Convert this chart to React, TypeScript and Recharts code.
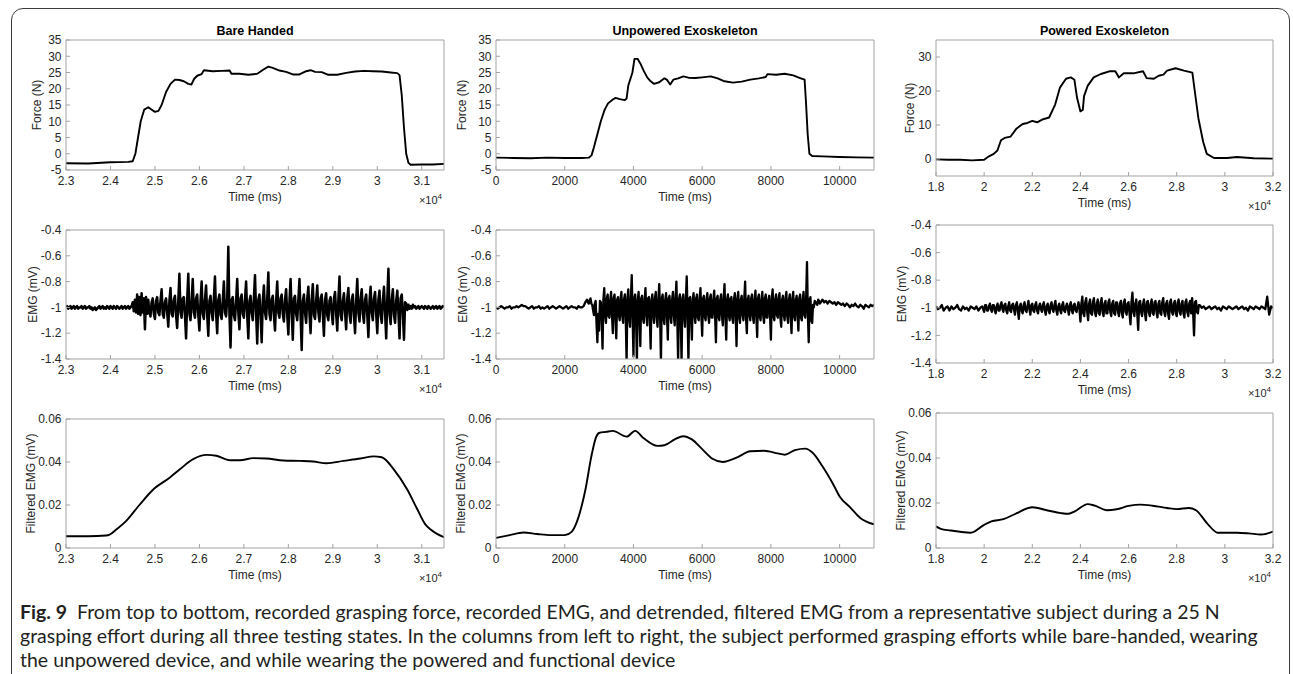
import { Line, LineChart, XAxis, YAxis } from "recharts";

// ---------- tick values ----------
const bareTimeTicks = [23000, 24000, 25000, 26000, 27000, 28000, 29000, 30000, 31000];
const unpTimeTicks = [0, 2000, 4000, 6000, 8000, 10000];
const powTimeTicks = [18000, 20000, 22000, 24000, 26000, 28000, 30000, 32000];
const forceTicks = [-5, 0, 5, 10, 15, 20, 25, 30, 35];
const forcePowTicks = [0, 10, 20, 30];
const emgTicks = [-1.4, -1.2, -1, -0.8, -0.6, -0.4];
const filtTicks = [0, 0.02, 0.04, 0.06];

// ---------- grasping force (N) ----------
const forceBareTime = [
  23000, 23500, 24000, 24400, 24500, 24560, 24620, 24680, 24760, 24850, 24920, 25000, 25080,
  25150, 25250, 25350, 25450, 25550, 25650, 25750, 25820, 25880, 25950, 26050, 26100, 26300,
  26500, 26680, 26720, 26900, 27100, 27300, 27450, 27550, 27650, 27800, 27950, 28100, 28250,
  28400, 28500, 28600, 28750, 28900, 29100, 29300, 29500, 29700, 29900, 30100, 30300, 30450,
  30500, 30550, 30600, 30650, 30700, 30750, 31000, 31250, 31500,
];
const forceBare = [
  -2.9, -3.0, -2.6, -2.5, -2.3, 0, 5, 10, 13.6, 14.3, 13.6, 12.9, 13.2,
  15, 19, 21.5, 22.8, 22.7, 22.3, 21.5, 21.3, 23, 24, 24.5, 25.7, 25.4,
  25.5, 25.6, 24.6, 24.6, 24.3, 24.6, 26, 26.8, 26.4, 25.6, 25.2, 24.4, 24.4,
  25.4, 25.7, 25.2, 25.1, 24.3, 24.3, 24.9, 25.3, 25.5, 25.4, 25.3, 25, 24.8,
  24.2, 18, 8, 0, -2.8, -3.4, -3.3, -3.3, -3.1,
];

const forceUnpTime = [
  0, 500, 1000, 1500, 2000, 2500, 2700, 2780, 2850, 2950, 3050, 3160, 3260, 3400, 3480, 3600,
  3750, 3800, 3850, 3970, 4030, 4120, 4200, 4300, 4400, 4500, 4600, 4750, 4900, 4970, 5070,
  5160, 5300, 5450, 5600, 5800, 6000, 6250, 6450, 6650, 6900, 7150, 7400, 7650, 7850, 7900,
  8150, 8400, 8650, 8850, 8980, 9020, 9070, 9120, 9200, 9500, 10000, 10500, 11000,
];
const forceUnp = [
  -1.2, -1.3, -1.4, -1.2, -1.3, -1.3, -1.2, -0.5, 2, 6, 10, 13.5, 15.5, 16.7, 17.2, 16.8,
  16.5, 17, 21, 25, 29.2, 29.2, 27.8, 25.5, 23.5, 22.3, 21.5, 22, 23.2, 22.8, 21.3,
  22.8, 23.2, 23.8, 23.4, 23.3, 23.5, 23.8, 23.2, 22.3, 21.9, 22.2, 22.8, 23.2, 23.6, 24.5,
  24.3, 24.6, 24.1, 23.3, 22.8, 16, 6, 0, -0.7, -0.8, -1.0, -1.1, -1.2,
];

const forcePowTime = [
  18000, 18500, 19000, 19500, 20000, 20200, 20400, 20550, 20700, 20850, 21100, 21350, 21600,
  21800, 22000, 22200, 22450, 22700, 22950, 23150, 23400, 23600, 23750, 23860, 24000, 24100,
  24150, 24300, 24550, 24850, 25200, 25450, 25600, 25800, 26200, 26600, 26750, 27050, 27250,
  27450, 27600, 27950, 28300, 28650, 28750, 28900, 29100, 29250, 29550, 30100, 30500, 31200,
  32000,
];
const forcePow = [
  -0.1, -0.2, -0.2, -0.4, -0.2, 0.8, 1.5, 2.5, 5.5, 6.2, 6.6, 9, 10.3,
  10.6, 11.2, 10.8, 11.7, 12.2, 16, 21, 23.6, 24, 23.3, 18, 14, 14.5,
  18.5, 21.5, 24, 25, 25.8, 25.8, 24, 25.2, 25.2, 25.8, 23.8, 23.6, 24.5,
  24.8, 26, 26.7, 26, 25.4, 20, 12, 5, 1.5, 0.3, 0.3, 0.6, 0.2,
  0.1,
];

// ---------- raw EMG (mV), each piece sampled on a fixed grid ----------
const emgBareStart = 23000;
const emgBareStep = 25;
const emgBare = [
  // quiet
  -1.0, -0.99, -1.01, -1.0, -0.99, -1.01, -1.0, -0.99, -1.01, -1.0,
  -0.99, -1.01, -1.0, -1.0, -0.99, -1.01, -1.0, -0.99, -1.01, -1.0,
  -1.0, -0.99, -1.01, -1.0, -1.02, -1.01, -1.0, -1.02, -1.01, -1.0,
  -0.99, -1.01, -1.0, -0.99, -1.01, -1.0, -1.01, -0.99, -1.0, -1.01,
  -0.99, -1.0, -1.01, -0.99, -1.0, -1.01, -0.99, -1.0, -1.01, -1.0,
  -0.99, -1.01, -1.0, -0.99, -1.01, -1.0, -0.99, -1.01, -1.0, -0.99,
  // onset burst
  -0.96, -1.03, -0.94, -1.04, -0.9, -1.05, -0.92, -1.06, -0.89, -1.04, -0.93, -1.17, -0.92, -1.05,
  // active
  -0.94, -1.04, -1.07, -0.96, -0.93, -1.05, -1.09, -0.95, -0.92, -1.04, -1.06, -0.95, -0.86, -1.05, -1.08, -0.96, -0.93, -1.04, -1.15, -0.95,
  -0.85, -1.05, -1.07, -0.94, -0.91, -1.06, -1.16, -0.95, -0.74, -1.04, -1.08, -0.93, -0.92, -1.06, -1.24, -0.94, -0.74, -1.05, -1.1, -0.95,
  -0.78, -1.04, -1.08, -0.93, -0.9, -1.06, -1.18, -0.95, -0.8, -1.05, -1.09, -0.94, -0.83, -1.06, -1.22, -0.95, -0.91, -1.04, -1.1, -0.93,
  -0.76, -1.05, -1.2, -0.94, -0.9, -1.06, -1.09, -0.95, -0.8, -1.04, -1.07, -0.93, -0.53, -1.05, -1.31, -0.94, -0.92, -1.06, -1.1, -0.95,
  -0.78, -1.04, -1.17, -0.93, -0.9, -1.05, -1.08, -0.94, -0.8, -1.06, -1.24, -0.95, -0.91, -1.04, -1.1, -0.93, -0.75, -1.05, -1.28, -0.94,
  -0.9, -1.06, -1.27, -0.95, -0.83, -1.04, -1.09, -0.93, -0.73, -1.05, -1.1, -0.94, -0.91, -1.06, -1.18, -0.95, -0.8, -1.04, -1.08, -0.93,
  -0.9, -1.05, -1.11, -0.94, -0.86, -1.06, -1.21, -0.95, -0.78, -1.04, -1.25, -0.93, -0.91, -1.05, -1.1, -0.94, -0.78, -1.06, -1.33, -0.95,
  -0.9, -1.04, -1.12, -0.93, -0.84, -1.05, -1.2, -0.94, -0.82, -1.06, -1.09, -0.95, -0.83, -1.04, -1.11, -0.93, -0.9, -1.05, -1.22, -0.94,
  -0.89, -1.06, -1.1, -0.95, -0.92, -1.04, -1.13, -0.93, -0.88, -1.05, -1.18, -0.94, -0.76, -1.06, -1.1, -0.95, -0.89, -1.04, -1.17, -0.93,
  -0.85, -1.05, -1.12, -0.94, -0.9, -1.06, -1.2, -0.95, -0.78, -1.04, -1.11, -0.93, -0.86, -1.05, -1.12, -0.94, -0.9, -1.06, -1.23, -0.95,
  -0.84, -1.04, -1.1, -0.93, -0.88, -1.05, -1.2, -0.94, -0.87, -1.06, -1.12, -0.95, -0.84, -1.04, -1.24, -0.93, -0.7, -1.05, -1.13, -0.94,
  -0.86, -1.06, -1.12, -0.95, -0.87, -1.04, -1.24, -0.93, -0.9, -1.05, -1.25, -0.96,
  // release and quiet
  -0.97, -1.02, -0.98, -1.01, -0.99, -1.01, -0.98, -1.0, -0.99, -1.01,
  -1.0, -0.99, -1.01, -1.0, -0.99, -1.0, -1.01, -0.99, -1.0, -1.01,
  -0.99, -1.0, -1.01, -1.0, -0.99, -1.01, -1.0, -0.99, -1.01, -1.0,
  -0.99, -1.01, -1.0, -0.99, -1.0,
];

const emgUnpPreStart = 0;
const emgUnpPreStep = 50;
const emgUnpPre = [
  -1.0, -1.01, -1.0, -0.99, -1.0, -1.01, -1.0, -1.0, -0.99, -1.01,
  -1.0, -1.0, -0.99, -1.0, -0.99, -0.98, -0.99, -0.99, -1.0, -1.01,
  -1.0, -0.99, -1.01, -1.0, -1.0, -0.99, -1.01, -1.0, -1.01, -1.0,
  -0.99, -1.01, -1.0, -0.99, -1.0, -1.01, -1.0, -0.99, -1.0, -1.01,
  -1.0, -0.99, -1.01, -1.0, -0.99, -1.0, -1.0, -1.01, -0.99, -1.0,
  -1.0, -0.99,
];
const emgUnpActStart = 2600;
const emgUnpActStep = 25;
const emgUnpAct = [
  -0.96, -0.95, -0.94, -0.96, -0.97, -0.95, -0.93, -0.97, -0.98, -1.02, -1.06, -0.97, -0.95, -1.12, -1.27, -1.05,
  -1.18, -0.95, -0.96, -1.08, -1.32, -0.94, -0.85, -1.06, -1.12, -0.93, -0.9, -1.07, -1.08, -0.94, -0.88, -1.06, -1.2, -0.93, -0.9, -1.07,
  -1.24, -0.94, -0.92, -1.06, -1.1, -0.93, -0.88, -1.07, -1.12, -0.94, -0.9, -1.06, -1.42, -0.93, -0.86, -1.08, -1.15, -0.94, -0.75, -1.06,
  -1.38, -0.93, -0.9, -1.07, -1.42, -0.94, -0.88, -1.06, -1.3, -0.93, -0.91, -1.08, -1.12, -0.94, -0.85, -1.06, -1.14, -0.93, -0.92, -1.07,
  -1.32, -0.94, -0.9, -1.06, -1.12, -0.93, -0.88, -1.07, -1.15, -0.94, -0.82, -1.06, -1.42, -0.93, -0.9, -1.08, -1.13, -0.94, -0.89, -1.06,
  -1.25, -0.93, -0.91, -1.07, -1.12, -0.94, -0.88, -1.06, -1.14, -0.93, -0.8, -1.08, -1.42, -0.94, -0.9, -1.06, -1.42, -0.93, -0.9, -1.07,
  -1.15, -0.94, -0.76, -1.06, -1.42, -0.93, -0.92, -1.07, -1.25, -0.94, -0.89, -1.06, -1.12, -0.93, -0.9, -1.08, -1.1, -0.94, -0.85, -1.06,
  -1.22, -0.93, -0.91, -1.07, -1.1, -0.94, -0.89, -1.06, -1.12, -0.93, -0.9, -1.08, -1.08, -0.94, -0.87, -1.06, -1.27, -0.93, -0.91, -1.07,
  -1.1, -0.94, -0.9, -1.06, -1.14, -0.93, -0.82, -1.07, -1.25, -0.94, -0.9, -1.06, -1.1, -0.93, -0.92, -1.08, -1.12, -0.94, -0.89, -1.06,
  -1.3, -0.93, -0.88, -1.07, -1.12, -0.94, -0.91, -1.06, -1.1, -0.93, -0.8, -1.08, -1.2, -0.94, -0.91, -1.06, -1.1, -0.93, -0.9, -1.07,
  -1.12, -0.94, -0.87, -1.06, -1.23, -0.93, -0.9, -1.07, -1.1, -0.94, -0.88, -1.06, -1.12, -0.93, -0.9, -1.08, -1.08, -0.94, -0.91, -1.06,
  -1.25, -0.93, -0.86, -1.07, -1.1, -0.94, -0.9, -1.06, -1.08, -0.93, -0.89, -1.08, -1.15, -0.94, -0.91, -1.06, -1.1, -0.93, -0.88, -1.07,
  -1.12, -0.94, -0.9, -1.06, -1.2, -0.93, -0.88, -1.07, -1.1, -0.94, -0.91, -1.06, -1.18, -0.93, -0.9, -1.08, -1.1, -0.94, -0.88, -1.06,
  -1.08, -0.93, -0.65, -1.05, -1.27, -0.94, -0.92, -1.1, -1.12, -0.98, -1.0, -0.95, -0.96, -0.97, -0.98, -0.94, -0.95, -0.97, -0.96, -0.95,
];
const emgUnpPostStart = 9500;
const emgUnpPostStep = 50;
const emgUnpPost = [
  -0.94, -0.96, -0.95, -0.97, -0.95, -0.96, -0.97, -0.96, -0.98, -0.96,
  -0.97, -0.98, -0.97, -0.99, -0.97, -0.98, -1.0, -0.98, -0.99, -0.97,
  -0.99, -1.0, -0.98, -0.99, -1.01, -0.98, -0.99, -1.0, -0.98, -0.99,
  -0.98,
];

const emgPowPreStart = 18000;
const emgPowPreStep = 80;
const emgPowPre = [
  -0.99, -1.01, -1.0, -0.98, -1.02, -1.0, -0.99, -1.02, -0.99, -1.01,
  -1.0, -0.98, -1.01, -1.02, -0.99, -1.01, -1.0, -1.02, -0.99, -1.0,
  -1.01, -0.99, -1.02, -1.0, -0.99,
];
const emgPowActStart = 20000;
const emgPowActStep = 40;
const emgPowAct = [
  -1.03, -0.98, -0.98, -1.02, -1.02, -0.99, -0.97, -1.01, -1.03, -0.98, -0.98, -1.02, -1.04, -0.99, -0.97, -1.02, -1.02, -0.98, -0.96, -1.01,
  -1.03, -0.98, -0.97, -1.02, -1.04, -0.99, -0.96, -1.02, -1.03, -0.98, -0.97, -1.01, -1.05, -0.98, -0.96, -1.02, -1.08, -0.99, -0.97, -1.02,
  -1.04, -0.98, -0.96, -1.02, -1.03, -0.99, -0.95, -1.01, -1.05, -0.98, -0.97, -1.02, -1.03, -0.98, -0.96, -1.02, -1.04, -0.99, -0.97, -1.01,
  -1.03, -0.98, -0.96, -1.02, -1.05, -0.99, -0.97, -1.02, -1.04, -0.98, -0.96, -1.01, -1.03, -0.98, -0.95, -1.02, -1.05, -0.99, -0.97, -1.02,
  -1.04, -0.98, -0.96, -1.02, -1.03, -0.99, -0.97, -1.01, -1.05, -0.98, -0.96, -1.02, -1.04, -0.98, -0.97, -1.02, -1.03, -0.99, -0.96, -1.01,
  -1.1, -0.97, -0.92, -1.04, -1.06, -0.96, -0.93, -1.03, -1.09, -0.97, -0.94, -1.04, -1.05, -0.96, -0.93, -1.03, -1.06, -0.97, -0.94, -1.04,
  -1.05, -0.96, -0.93, -1.03, -1.06, -0.97, -0.95, -1.04, -1.04, -0.96, -0.94, -1.03, -1.06, -0.97, -0.95, -1.04, -1.05, -0.96, -0.96, -1.03,
  -1.06, -0.97, -0.95, -1.04, -1.07, -0.96, -0.94, -1.03, -1.05, -0.97, -0.96, -1.04, -1.12, -0.96, -0.89, -1.03, -1.06, -0.97, -0.94, -1.04,
  -1.16, -0.96, -0.95, -1.03, -1.06, -0.97, -0.94, -1.04, -1.09, -0.96, -0.95, -1.03, -1.06, -0.97, -0.94, -1.04, -1.05, -0.96, -0.95, -1.03,
  -1.07, -0.97, -0.95, -1.04, -1.05, -0.96, -0.93, -1.03, -1.06, -0.97, -0.95, -1.04, -1.08, -0.96, -0.94, -1.03, -1.05, -0.97, -0.95, -1.04,
  -1.06, -0.96, -0.94, -1.03, -1.05, -0.97, -0.95, -1.04, -1.07, -0.96, -0.94, -1.03, -1.06, -0.97, -0.95, -1.04, -0.93, -1.03, -1.2, -0.96,
  -0.95, -1.03, -1.04, -0.98,
];
const emgPowPostStart = 28960;
const emgPowPostStep = 80;
const emgPowPost = [
  -0.98, -1.0, -0.99, -1.01, -1.0, -0.99, -1.01, -1.0,
  -0.99, -1.01, -1.0, -1.02, -0.99, -1.0, -1.01, -0.99, -1.0, -1.01,
  -1.0, -0.99, -1.01, -1.0, -0.99, -1.01, -1.0, -1.02, -0.99, -1.0,
  -1.01, -0.99, -1.0, -1.01, -0.99, -1.0, -1.01, -0.92, -1.05, -0.99, -1.0,
];

// ---------- filtered EMG (mV) ----------
const filtBareTime = [
  23000, 23500, 23900, 23980, 24130, 24350, 24650, 24950, 25330, 25560, 25860, 26160, 26380,
  26680, 26910, 27210, 27510, 27890, 28260, 28560, 28860, 29240, 29620, 29920, 30100, 30370,
  30670, 30900, 31080, 31200, 31500,
];
const filtBare = [
  0.0055, 0.0055, 0.0058, 0.0062, 0.0086, 0.0125, 0.02, 0.027, 0.0327, 0.0366, 0.0413, 0.0433,
  0.0429, 0.0408, 0.0408, 0.0418, 0.0416, 0.0407, 0.0405, 0.0402, 0.0394, 0.0405, 0.0416, 0.0426,
  0.0422, 0.0366, 0.0273, 0.018, 0.011, 0.0086, 0.005,
];

const filtUnpTime = [
  0, 400, 800, 1200, 1600, 2000, 2200, 2350, 2500, 2600, 2780, 2900, 3000, 3200, 3400, 3800,
  4050, 4300, 4700, 4900, 5200, 5450, 5700, 6000, 6300, 6600, 7000, 7400, 7800, 8200, 8400,
  8700, 9000, 9200, 9500, 9800, 10000, 10300, 10600, 11000,
];
const filtUnp = [
  0.0047, 0.006, 0.0072, 0.0065, 0.006, 0.006, 0.0075, 0.012, 0.02, 0.027, 0.043, 0.051, 0.0535,
  0.054, 0.0545, 0.0518, 0.0545, 0.051, 0.0475, 0.0478, 0.0505, 0.052, 0.0505, 0.046, 0.0415,
  0.04, 0.042, 0.045, 0.0452, 0.044, 0.0434, 0.0455, 0.0462, 0.0445, 0.038, 0.03, 0.024, 0.019,
  0.014, 0.011,
];

const filtPowTime = [
  18000, 18200, 18600, 19000, 19450, 20000, 20300, 20800, 21300, 22000, 22600, 23200, 23500,
  23800, 24300, 24600, 25100, 25500, 26000, 26500, 27000, 27600, 28000, 28500, 28800, 29300,
  29700, 30000, 30500, 31000, 31500, 32000,
];
const filtPow = [
  0.0096, 0.0085, 0.0078, 0.0072, 0.0068, 0.0103, 0.0118, 0.0128, 0.0152, 0.0181, 0.0168,
  0.0155, 0.0152, 0.0165, 0.0195, 0.0188, 0.0168, 0.0172, 0.0187, 0.0193, 0.0188, 0.0178,
  0.0173, 0.0178, 0.0168, 0.0105, 0.0068, 0.0068, 0.0068, 0.0065, 0.006, 0.0073,
];

const titles = ["Bare Handed", "Unpowered Exoskeleton", "Powered Exoskeleton"];

// ---------- styling / layout ----------
const AXIS = "#a3a3a3";
const INK = "#262626";
const FONT = '"Liberation Sans", Arial, Helvetica, sans-serif';
const PAD_L = 60;
const PAD_T = 10;
const PAD_R = 10;
const PAD_B = 34;

type Pt = { t: number; v: number };
type Box = [number, number, number, number];

const pairs = (time: number[], vals: number[]): Pt[] => time.map((t, i) => ({ t, v: vals[i] }));
const sampled = (start: number, step: number, vals: number[]): Pt[] =>
  vals.map((v, i) => ({ t: start + i * step, v }));

const sciFmt = (v: number) => String(Math.round(v / 1000) / 10);
const plainFmt = (v: number) => String(v);

const emgBarePts = sampled(emgBareStart, emgBareStep, emgBare);
const emgUnpPts = [
  ...sampled(emgUnpPreStart, emgUnpPreStep, emgUnpPre),
  ...sampled(emgUnpActStart, emgUnpActStep, emgUnpAct),
  ...sampled(emgUnpPostStart, emgUnpPostStep, emgUnpPost),
];
const emgPowPts = [
  ...sampled(emgPowPreStart, emgPowPreStep, emgPowPre),
  ...sampled(emgPowActStart, emgPowActStep, emgPowAct),
  ...sampled(emgPowPostStart, emgPowPostStep, emgPowPost),
];

interface PanelProps {
  box: Box;
  points: Pt[];
  xDomain: [number, number];
  xTicks: number[];
  xFmt: (v: number) => string;
  yDomain: [number, number];
  yTicks: number[];
  yLabel: string;
  yLabelGap: number;
  smooth?: boolean;
  sci?: boolean;
  lineWidth?: number;
}

function Panel({ box, points, xDomain, xTicks, xFmt, yDomain, yTicks, yLabel, yLabelGap, smooth, sci, lineWidth = 1.9 }: PanelProps) {
  const [l, t, r, b] = box;
  const w = r - l + PAD_L + PAD_R;
  const h = b - t + PAD_T + PAD_B;
  return (
    <>
      <div style={{ position: "absolute", left: l - PAD_L, top: t - PAD_T }}>
        <LineChart width={w} height={h} data={points} margin={{ top: PAD_T - 1, right: PAD_R - 1, left: 0, bottom: 0 }}>
          <XAxis
            xAxisId="b"
            dataKey="t"
            type="number"
            domain={xDomain}
            ticks={xTicks}
            interval={0}
            allowDataOverflow
            height={PAD_B}
            stroke={AXIS}
            tickSize={-4}
            tickMargin={10}
            tickFormatter={xFmt}
            tick={{ fill: INK, fontSize: 12, fontFamily: FONT }}
            label={{ value: "Time (ms)", position: "insideBottom", offset: 3.5, fill: INK, fontSize: 12, fontFamily: FONT }}
          />
          <XAxis
            xAxisId="top"
            orientation="top"
            dataKey="t"
            type="number"
            domain={xDomain}
            ticks={xTicks}
            interval={0}
            allowDataOverflow
            height={1}
            stroke={AXIS}
            tickSize={-4}
            tick={false}
          />
          <YAxis
            yAxisId="l"
            type="number"
            domain={yDomain}
            ticks={yTicks}
            interval={0}
            allowDataOverflow
            width={PAD_L}
            stroke={AXIS}
            tickSize={-4}
            tickMargin={8.5}
            tickFormatter={plainFmt}
            tick={{ fill: INK, fontSize: 12, fontFamily: FONT }}
            label={{
              value: yLabel,
              angle: -90,
              position: "insideLeft",
              offset: PAD_L - yLabelGap,
              fill: INK,
              fontSize: 12,
              fontFamily: FONT,
              style: { textAnchor: "middle" },
            }}
          />
          <YAxis
            yAxisId="r"
            orientation="right"
            type="number"
            domain={yDomain}
            ticks={yTicks}
            interval={0}
            allowDataOverflow
            width={1}
            stroke={AXIS}
            tickSize={-4}
            tick={false}
          />
          <Line
            xAxisId="b"
            yAxisId="l"
            type={smooth ? "monotone" : "linear"}
            dataKey="v"
            stroke="#000"
            strokeWidth={lineWidth}
            strokeLinejoin="round"
            dot={false}
            activeDot={false}
            isAnimationActive={false}
          />
        </LineChart>
      </div>
      {sci && (
        <div
          style={{
            position: "absolute",
            left: r - 42,
            top: b + 23.5,
            width: 40,
            textAlign: "right",
            fontSize: 11,
            lineHeight: "12px",
            color: INK,
            fontFamily: FONT,
          }}
        >
          ×10<span style={{ fontSize: 8, position: "relative", top: -5 }}>4</span>
        </div>
      )}
    </>
  );
}

const COL_X: [number, number][] = [
  [66, 444],
  [496, 874],
  [936, 1273],
];

export default function App() {
  const bx = (c: number, top: number, bottom: number): Box => [COL_X[c][0], top, COL_X[c][1], bottom];
  return (
    <div
      style={{
        position: "absolute",
        left: 0,
        top: 0,
        width: 1293,
        height: 674,
        background: "#fff",
        overflow: "hidden",
        fontFamily: FONT,
      }}
    >
      <div
        style={{
          position: "absolute",
          left: 11,
          top: 8,
          width: 1279,
          height: 700,
          boxSizing: "border-box",
          border: "1.5px solid #3c3c3c",
          borderRadius: 12,
        }}
      />
      {titles.map((title, c) => (
        <div
          key={title}
          style={{
            position: "absolute",
            left: COL_X[c][0],
            width: COL_X[c][1] - COL_X[c][0],
            top: 23.5,
            textAlign: "center",
            fontWeight: "bold",
            fontSize: 12.5,
            lineHeight: "14px",
            color: "#000",
          }}
        >
          {title}
        </div>
      ))}

      {/* row 1: force */}
      <Panel box={bx(0, 40, 170)} points={pairs(forceBareTime, forceBare)} xDomain={[23000, 31500]} xTicks={bareTimeTicks} xFmt={sciFmt} yDomain={[-5, 35]} yTicks={forceTicks} yLabel="Force (N)" yLabelGap={29} sci />
      <Panel box={bx(1, 40, 170)} points={pairs(forceUnpTime, forceUnp)} xDomain={[0, 11000]} xTicks={unpTimeTicks} xFmt={plainFmt} yDomain={[-5, 35]} yTicks={forceTicks} yLabel="Force (N)" yLabelGap={34} />
      <Panel box={bx(2, 40, 176)} points={pairs(forcePowTime, forcePow)} xDomain={[18000, 32000]} xTicks={powTimeTicks} xFmt={sciFmt} yDomain={[-5, 35]} yTicks={forcePowTicks} yLabel="Force (N)" yLabelGap={26} sci />

      {/* row 2: raw EMG */}
      <Panel box={bx(0, 230, 359)} points={emgBarePts} xDomain={[23000, 31500]} xTicks={bareTimeTicks} xFmt={sciFmt} yDomain={[-1.4, -0.4]} yTicks={emgTicks} yLabel="EMG (mV)" yLabelGap={33} sci lineWidth={2.5} />
      <Panel box={bx(1, 230, 359)} points={emgUnpPts} xDomain={[0, 11000]} xTicks={unpTimeTicks} xFmt={plainFmt} yDomain={[-1.4, -0.4]} yTicks={emgTicks} yLabel="EMG (mV)" yLabelGap={33} lineWidth={2.3} />
      <Panel box={bx(2, 225, 363)} points={emgPowPts} xDomain={[18000, 32000]} xTicks={powTimeTicks} xFmt={sciFmt} yDomain={[-1.4, -0.4]} yTicks={emgTicks} yLabel="EMG (mV)" yLabelGap={34} sci lineWidth={2.3} />

      {/* row 3: filtered EMG */}
      <Panel box={bx(0, 419, 548)} points={pairs(filtBareTime, filtBare)} xDomain={[23000, 31500]} xTicks={bareTimeTicks} xFmt={sciFmt} yDomain={[0, 0.06]} yTicks={filtTicks} yLabel="Filtered EMG (mV)" yLabelGap={35} smooth sci />
      <Panel box={bx(1, 419, 548)} points={pairs(filtUnpTime, filtUnp)} xDomain={[0, 11000]} xTicks={unpTimeTicks} xFmt={plainFmt} yDomain={[0, 0.06]} yTicks={filtTicks} yLabel="Filtered EMG (mV)" yLabelGap={35} smooth />
      <Panel box={bx(2, 413, 548)} points={pairs(filtPowTime, filtPow)} xDomain={[18000, 32000]} xTicks={powTimeTicks} xFmt={sciFmt} yDomain={[0, 0.06]} yTicks={filtTicks} yLabel="Filtered EMG (mV)" yLabelGap={35} smooth sci />

      {/* caption */}
      {[
        <>
          <b>Fig. 9</b>
          {"\u00a0 From top to bottom, recorded grasping force, recorded EMG, and detrended, filtered EMG from a representative subject during a 25 N"}
        </>,
        "grasping effort during all three testing states. In the columns from left to right, the subject performed grasping efforts while bare-handed, wearing",
        "the unpowered device, and while wearing the powered and functional device",
      ].map((line, i) => (
        <div
          key={i}
          style={{
            position: "absolute",
            left: 20,
            top: 602 + i * 23.8,
            whiteSpace: "nowrap",
            fontFamily: "Lato, 'Open Sans', sans-serif",
            fontSize: 19.5,
            lineHeight: "20px",
            color: "#231f20",
          }}
        >
          {line}
        </div>
      ))}
    </div>
  );
}
